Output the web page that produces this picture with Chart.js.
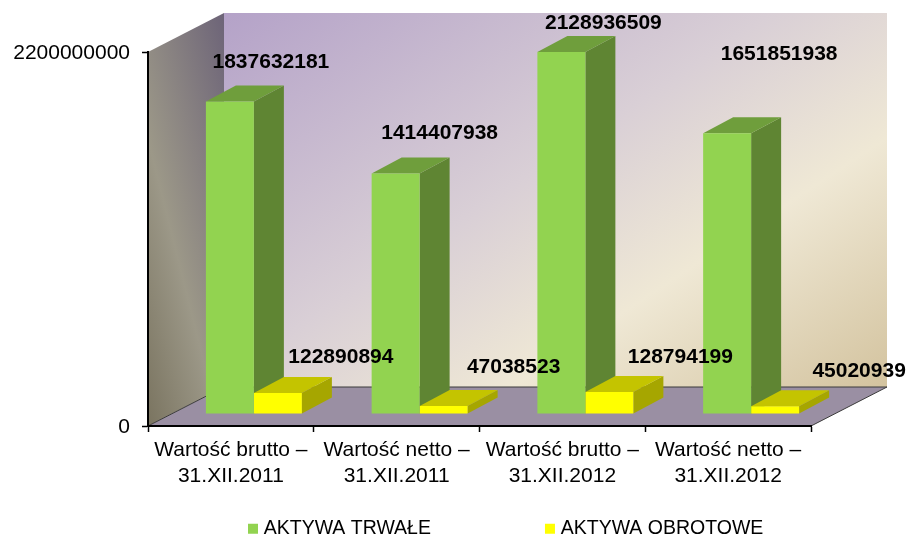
<!DOCTYPE html>
<html>
<head>
<meta charset="utf-8">
<style>html,body{margin:0;padding:0;background:#fff}canvas{display:block}</style>
<script src="https://cdn.jsdelivr.net/npm/chart.js@4/dist/chart.umd.min.js"></script>
</head>
<body>
<canvas id="c" width="907" height="536"></canvas>
<script>
const categories = [
  ["Wartość brutto –", "31.XII.2011"],
  ["Wartość netto –", "31.XII.2011"],
  ["Wartość brutto –", "31.XII.2012"],
  ["Wartość netto –", "31.XII.2012"]
];
const seriesNames = ["AKTYWA TRWAŁE", "AKTYWA OBROTOWE"];
const aktywaTrwale = [1837632181, 1414407938, 2128936509, 1651851938];
const aktywaObrotowe = [122890894, 47038523, 128794199, 45020939];
const axisMax = 2200000000;

const FONT = '"Liberation Sans", Arial, sans-serif';
// Perspective of the 3D look (pixels)
const wall = {dx: 76, dy: 39};
const plane = {dx: 23, dy: 12};
const bar = {dx: 30, dy: 16};
const faces = [
  {side: '#5f8533', top: '#6f9e3c'},
  {side: '#a6a600', top: '#c4c400'}
];
// Hand placement of the value labels relative to their bars' front top centre
const labelOffsets = [
  [[41, -39.5], [44, -40.5], [42, -28.5], [52, -78.5]],
  [[63, -35.5], [70, -38.5], [71, -34.5], [84, -35.5]]
];

function poly(ctx, pts, fill) {
  ctx.beginPath();
  pts.forEach((p, i) => i ? ctx.lineTo(p[0], p[1]) : ctx.moveTo(p[0], p[1]));
  ctx.closePath();
  ctx.fillStyle = fill;
  ctx.fill();
}

const scene3d = {
  id: 'scene3d',
  beforeDraw(chart) {
    const {ctx, chartArea: a} = chart;
    const L = a.left, R = a.right, T = a.top, B = a.bottom;
    const bl = L + wall.dx, br = R + wall.dx, bt = T - wall.dy, bb = B - wall.dy;
    ctx.save();
    let g = ctx.createLinearGradient(bl, bt, bl + 371, bt + 560);
    g.addColorStop(0, '#b4a2c8');
    g.addColorStop(0.45, '#d9cfd6');
    g.addColorStop(0.70, '#efe8d5');
    g.addColorStop(1, '#d4c4a0');
    poly(ctx, [[bl, bt], [br, bt], [br, bb], [bl, bb]], g);
    g = ctx.createLinearGradient(L - 55, T + 153, L + 113, T + 111);
    g.addColorStop(0, '#7a7460');
    g.addColorStop(0.4, '#9c9888');
    g.addColorStop(1, '#6d6478');
    poly(ctx, [[L, T], [bl, bt], [bl, bb], [L, B]], g);
    poly(ctx, [[L, B], [bl, bb], [br, bb], [R, B]], '#9a8fa3');
    ctx.strokeStyle = '#3a3a3a';
    ctx.lineWidth = 1;
    ctx.beginPath();
    ctx.moveTo(L, B); ctx.lineTo(bl, bb); ctx.lineTo(br, bb); ctx.lineTo(R, B);
    ctx.stroke();
    ctx.restore();
  },
  beforeDatasetsDraw(chart) {
    const {ctx} = chart;
    ctx.save();
    ctx.translate(plane.dx, -plane.dy);
    [0, 1].forEach(ds => {
      chart.getDatasetMeta(ds).data.forEach(el => {
        const {x, y, base, width} = el.getProps(['x', 'y', 'base', 'width'], true);
        const l = x - width / 2, r = x + width / 2;
        poly(ctx, [[r, y], [r + bar.dx, y - bar.dy], [r + bar.dx, base - bar.dy], [r, base]], faces[ds].side);
        poly(ctx, [[l, y], [l + bar.dx, y - bar.dy], [r + bar.dx, y - bar.dy], [r, y]], faces[ds].top);
      });
    });
  },
  afterDatasetsDraw(chart) {
    const {ctx} = chart;
    ctx.textAlign = 'center';
    ctx.textBaseline = 'middle';
    ctx.fillStyle = '#000';
    ctx.font = 'bold 21px ' + FONT;
    [0, 1].forEach(ds => {
      const values = chart.data.datasets[ds].data;
      chart.getDatasetMeta(ds).data.forEach((el, i) => {
        const {x, y} = el.getProps(['x', 'y'], true);
        ctx.fillText(String(values[i]), x + labelOffsets[ds][i][0], y + labelOffsets[ds][i][1]);
      });
    });
    ctx.restore();
  },
  afterLayout(chart) {
    const lg = chart.legend;
    const pad = lg.options.labels.padding;
    lg.left = 252 - pad;
    lg.right = 2000;
    lg.top = 519 - pad;
  }
};

new Chart(document.getElementById('c'), {
  type: 'bar',
  data: {
    labels: categories,
    datasets: [
      {label: seriesNames[0], data: aktywaTrwale, backgroundColor: '#92d350'},
      {label: seriesNames[1], data: aktywaObrotowe, backgroundColor: '#ffff00'}
    ]
  },
  options: {
    responsive: false,
    animation: false,
    layout: {padding: {top: 52, right: 96, left: 0, bottom: 0}},
    datasets: {bar: {categoryPercentage: 0.579, barPercentage: 1, borderWidth: 0, clip: false}},
    plugins: {
      tooltip: {enabled: false},
      legend: {
        position: 'bottom',
        align: 'start',
        maxHeight: 26,
        labels: {
          color: '#000',
          font: {family: FONT, size: 19.5},
          padding: 118,
          boxWidth: 2,
          boxHeight: 2,
          generateLabels(chart) {
            return chart.data.datasets.map((d, i) => ({
              text: d.label, fillStyle: d.backgroundColor, strokeStyle: d.backgroundColor,
              lineWidth: 8, hidden: false, datasetIndex: i, fontColor: '#000'
            }));
          }
        }
      }
    },
    scales: {
      x: {
        grid: {drawOnChartArea: false, tickLength: 6, tickColor: '#000', tickWidth: 1.5},
        border: {color: '#000', width: 2},
        ticks: {color: '#000', font: {family: FONT, size: 21, lineHeight: 1.24}, padding: 5, maxRotation: 0, autoSkip: false},
        afterFit(s) { s.height = 84; }
      },
      y: {
        min: 0,
        max: axisMax,
        grid: {drawOnChartArea: false, tickLength: 6, tickColor: '#000', tickWidth: 1.5},
        border: {color: '#000', width: 2},
        ticks: {
          color: '#000', font: {family: FONT, size: 21}, padding: 12, labelOffset: 1, stepSize: axisMax,
          callback: v => String(v)
        },
        afterFit(s) { s.width = 148; }
      }
    }
  },
  plugins: [scene3d]
});
</script>
</body>
</html>
